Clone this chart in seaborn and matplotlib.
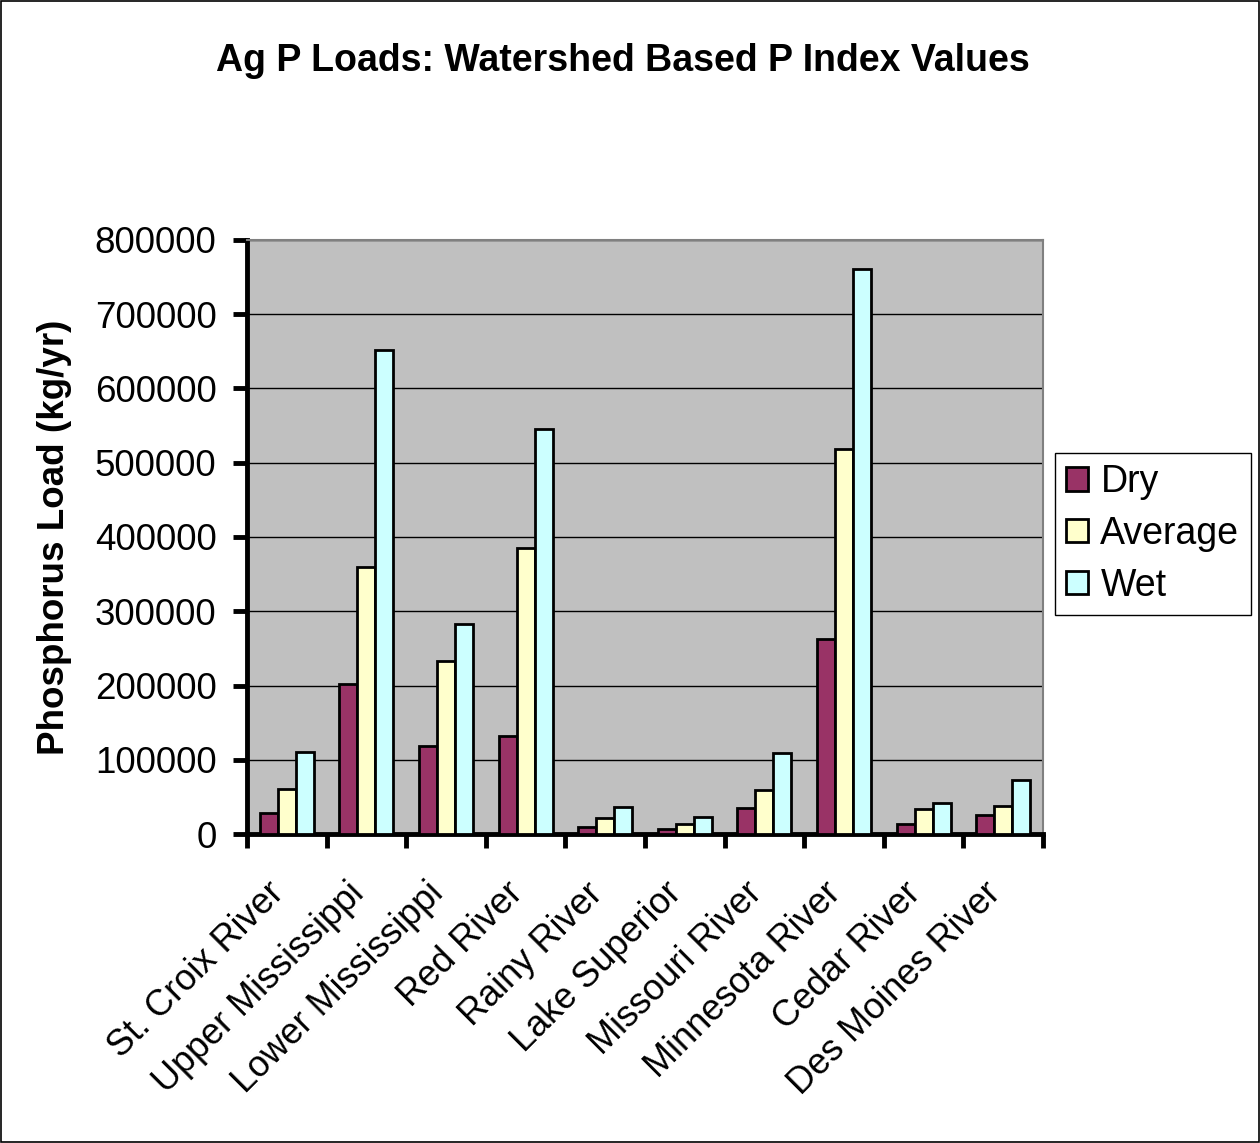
import matplotlib
matplotlib.use("Agg")
import matplotlib.pyplot as plt
import matplotlib.patches as mpatches
import matplotlib.transforms as mtransforms
from matplotlib.ticker import FixedLocator, NullFormatter
import seaborn as sns
import pandas as pd

# Watershed names and agricultural phosphorus loads (kg/yr) per climate scenario
watersheds = ["St. Croix River", "Upper Mississippi", "Lower Mississippi", "Red River",
              "Rainy River", "Lake Superior", "Missouri River", "Minnesota River",
              "Cedar River", "Des Moines River"]
dry = [28000, 201500, 118000, 132000, 9000, 7000, 35500, 262500, 14000, 25000]
average = [60000, 360000, 233000, 385000, 21000, 14000, 58700, 518300, 33000, 38000]
wet = [110600, 652000, 283500, 545500, 37000, 22600, 109000, 760700, 42000, 73000]
scenarios = ["Dry", "Average", "Wet"]
colors = ["#993366", "#FFFFCC", "#CCFFFF"]
yticks = [0, 100000, 200000, 300000, 400000, 500000, 600000, 700000, 800000]

df = pd.DataFrame({
    "Watershed": watersheds * 3,
    "Scenario": ["Dry"] * len(dry) + ["Average"] * len(average) + ["Wet"] * len(wet),
    "Load": dry + average + wet,
})

sns.set_style("white")
plt.rcParams["font.family"] = ["Liberation Sans", "DejaVu Sans"]
plt.rcParams["text.color"] = "black"
plt.rcParams["axes.labelcolor"] = "black"
plt.rcParams["xtick.color"] = "black"
plt.rcParams["ytick.color"] = "black"

fig = plt.figure(figsize=(12.6, 11.43), dpi=100)
ax = fig.add_axes([247 / 1260, 1 - 834 / 1143, (1043 - 247) / 1260, (834 - 240) / 1143])

sns.barplot(data=df, x="Watershed", y="Load", hue="Scenario", hue_order=scenarios,
            palette=colors, order=watersheds, width=0.68, gap=0, saturation=1,
            edgecolor="black", linewidth=2, errorbar=None, ax=ax, zorder=3)

ax.set_facecolor("#C0C0C0")
ax.set_ylim(0, 800000)
ax.set_xlim(-0.5, len(watersheds) - 0.5)
ax.set_yticks(yticks)
ax.set_yticklabels([str(v) for v in yticks])
ax.yaxis.grid(True, color="black", linewidth=1, zorder=0)
ax.set_axisbelow(True)

for side in ["top", "right"]:
    ax.spines[side].set_visible(True)
    ax.spines[side].set_color("#808080")
    ax.spines[side].set_linewidth(1.5)
for side in ["left", "bottom"]:
    ax.spines[side].set_color("black")
    ax.spines[side].set_linewidth(3.5)

ax.tick_params(axis="y", which="major", direction="out", length=10, width=3.5,
               color="black", labelsize=26.5, pad=12, left=True, labelcolor="black")
ax.tick_params(axis="x", which="major", length=0, labelsize=26, pad=39, labelcolor="black")
ax.xaxis.set_minor_locator(FixedLocator([i - 0.5 for i in range(len(watersheds) + 1)]))
ax.xaxis.set_minor_formatter(NullFormatter())
ax.tick_params(axis="x", which="minor", direction="out", length=10, width=3.5,
               color="black", bottom=True)
shift = mtransforms.ScaledTranslation(-8 / 100, 0, fig.dpi_scale_trans)
for lbl in ax.get_xticklabels():
    lbl.set_rotation(45)
    lbl.set_ha("right")
    lbl.set_va("center")
    lbl.set_rotation_mode("anchor")
    lbl.set_transform(lbl.get_transform() + shift)

ax.set_xlabel("")
ax.set_ylabel("Phosphorus Load (kg/yr)", fontsize=26.5, fontweight="bold", labelpad=16,
              color="black")

fig.suptitle("Ag P Loads: Watershed Based P Index Values", x=0.494, y=0.962,
             fontsize=27, fontweight="bold", color="black")

handles = [mpatches.Patch(facecolor=c, edgecolor="black", linewidth=2) for c in colors]
leg = ax.legend(handles, scenarios, loc="upper left",
                bbox_to_anchor=(1055 / 1260, 1 - 453 / 1143), bbox_transform=fig.transFigure,
                borderaxespad=0, fontsize=27, frameon=True, fancybox=False, framealpha=1,
                edgecolor="black", handlelength=0.58, handleheight=0.58,
                handletextpad=0.33, labelspacing=0.42, borderpad=0.3)
leg.get_frame().set_linewidth(1)
for t in leg.get_texts():
    t.set_color("black")

fig.patches.append(mpatches.Rectangle((0.001, 0.001), 0.998, 0.998, transform=fig.transFigure,
                                      fill=False, edgecolor="black", linewidth=1.2))

fig.savefig("out.png", dpi=100)
